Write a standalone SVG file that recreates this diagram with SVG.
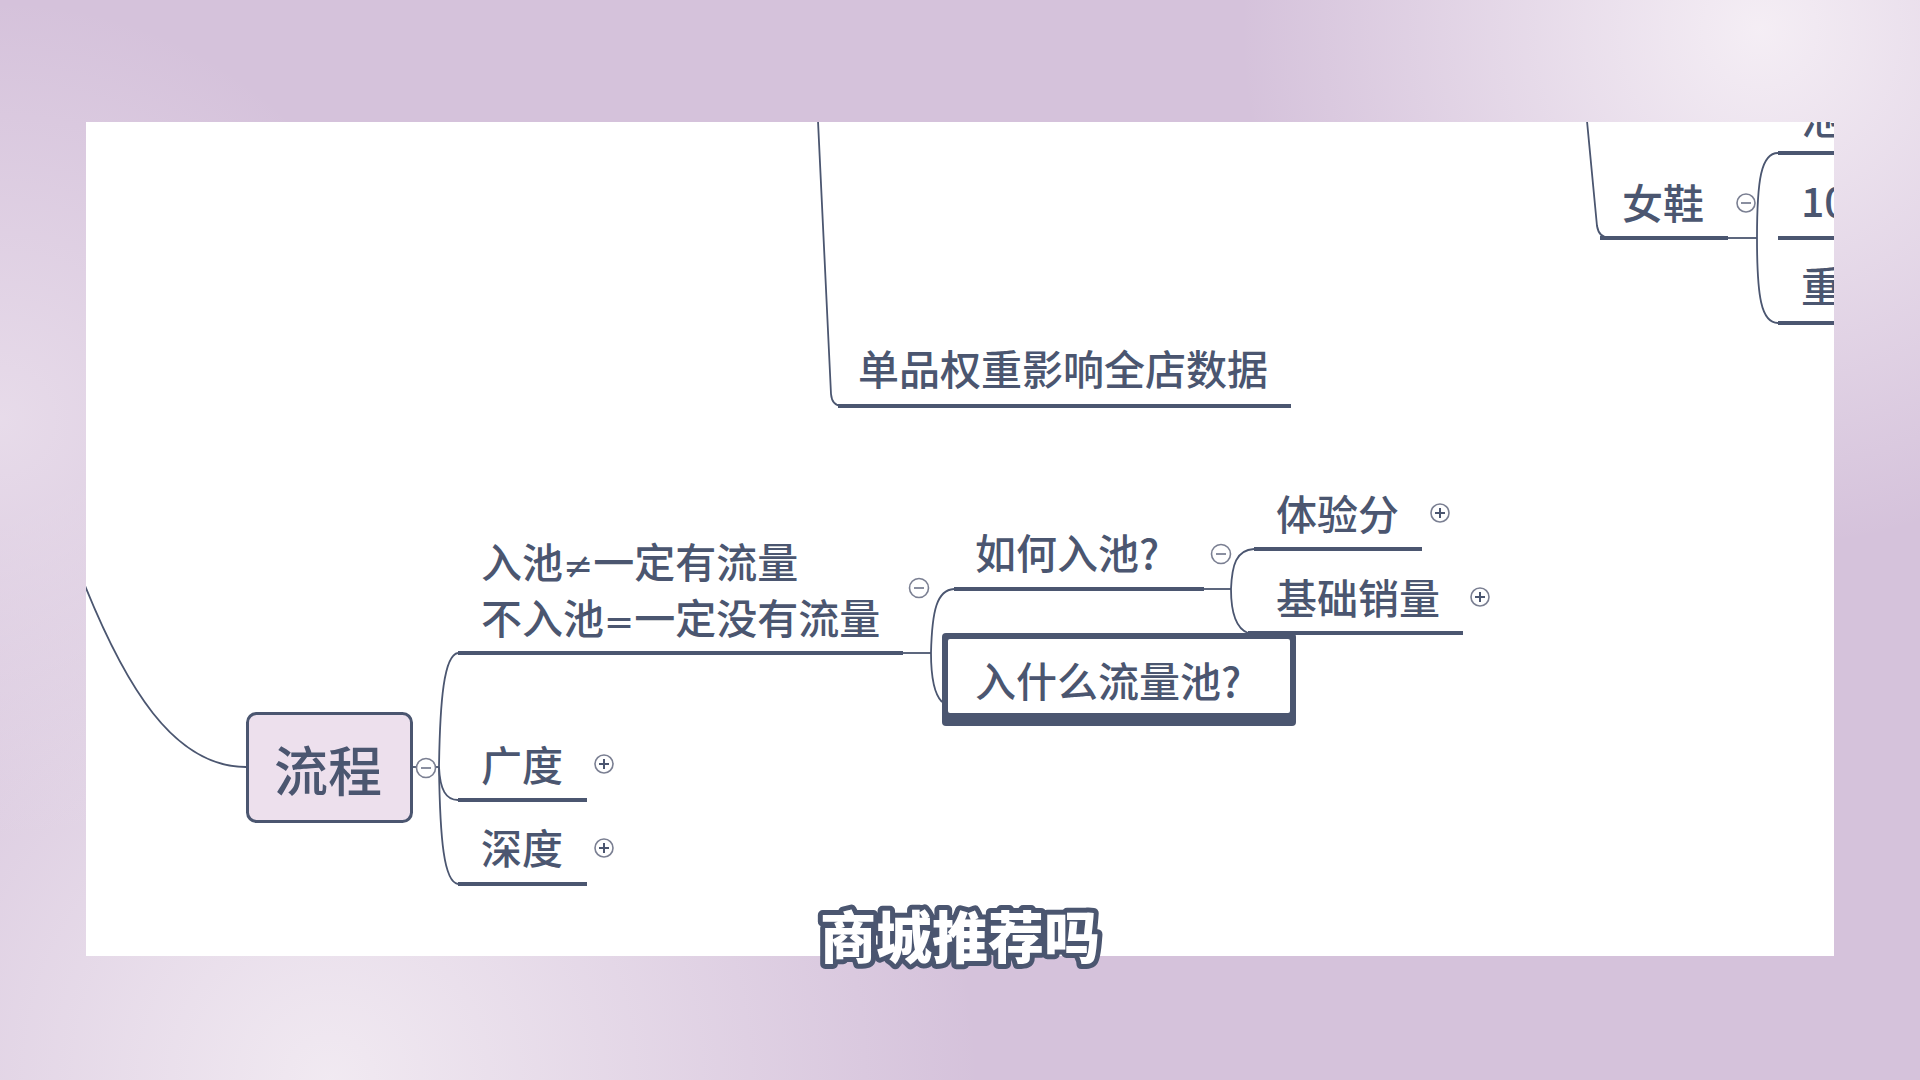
<svg xmlns="http://www.w3.org/2000/svg" width="1920" height="1080" viewBox="0 0 1920 1080">
<defs>
<radialGradient id="gTR" cx="1760" cy="30" r="520" gradientUnits="userSpaceOnUse"><stop offset="0" stop-color="#f6f0f6" stop-opacity="0.95"/><stop offset="1" stop-color="#f6f0f6" stop-opacity="0"/></radialGradient>
<radialGradient id="gBL" cx="330" cy="1080" r="650" gradientUnits="userSpaceOnUse"><stop offset="0" stop-color="#f4eef4" stop-opacity="0.9"/><stop offset="1" stop-color="#f4eef4" stop-opacity="0"/></radialGradient>
<radialGradient id="gL" cx="0" cy="420" r="420" gradientUnits="userSpaceOnUse"><stop offset="0" stop-color="#efe6f0" stop-opacity="0.7"/><stop offset="1" stop-color="#efe6f0" stop-opacity="0"/></radialGradient>
<clipPath id="panel"><rect x="86" y="122" width="1748" height="834"/></clipPath>
<style>
.t{font-family:"Noto Sans CJK SC","Noto Sans",sans-serif;fill:#4b5670;font-size:41px;font-weight:500}
.ln{fill:none;stroke:#4b5670;stroke-width:1.8}
.ul{fill:none;stroke:#4b5670;stroke-width:4}
.cc{fill:#ffffff;stroke:#7a7f92;stroke-width:1.6}
.mk{stroke:#8a8fa0;stroke-width:2;fill:none}
.pk{stroke:#4b5670;stroke-width:2;fill:none}
</style>
</defs>
<rect width="1920" height="1080" fill="#d5c2db"/>
<rect width="1920" height="1080" fill="url(#gTR)"/>
<rect width="1920" height="1080" fill="url(#gBL)"/>
<rect width="1920" height="1080" fill="url(#gL)"/>
<rect x="86" y="122" width="1748" height="834" fill="#ffffff"/>
<g clip-path="url(#panel)">
<g id="connectors">
<path class="ln" d="M78 568 C125 690,175 767,246 767"/>
<path class="ln" d="M817 100 L831 394 Q832 406 842 406"/>
<path class="ln" d="M1585 100 L1597 226 Q1599 238 1610 238"/>
<path class="ln" d="M1728 238 L1757 238"/>
<path class="ln" d="M1778 153 C1761 153,1757 180,1757 238 C1757 296,1761 323,1778 323"/>
<path class="ln" d="M412 767 L439 767"/>
<path class="ln" d="M458 653 C444 655,440 700,439 767 C440 790,446 800,458 800"/>
<path class="ln" d="M439 767 C440 840,444 882,458 884"/>
<path class="ln" d="M903 653 L931 653"/>
<path class="ln" d="M954 589 C937 590,932 610,931 653 C931 680,935 695,942 702"/>
<path class="ln" d="M1204 589 L1231 589"/>
<path class="ln" d="M1254 549 C1236 550,1232 565,1231 589 C1231 610,1235 628,1248 633"/>
</g>
<g id="node-danpin">
<path class="ul" d="M838 406 H1291"/>
<text class="t" x="858" y="385">单品权重影响全店数据</text>
</g>
<g id="node-nvxie">
<path class="ul" d="M1600 238 H1728"/>
<text class="t" x="1622" y="219">女鞋</text>
<circle class="cc" cx="1746" cy="203" r="9"/><path class="mk" d="M1741 203 H1751"/>
</g>
<g id="node-r1">
<path class="ul" d="M1778 153 H1840"/>
<text class="t" x="1801" y="134">池</text>
</g>
<g id="node-r2">
<path class="ul" d="M1778 238 H1840"/>
<text class="t" x="1801" y="217">10</text>
</g>
<g id="node-r3">
<path class="ul" d="M1778 323 H1840"/>
<text class="t" x="1801" y="302">重</text>
</g>
<g id="node-liucheng">
<rect x="247.5" y="713.5" width="164" height="108" rx="9" fill="#ede0ed" stroke="#4b5670" stroke-width="3"/>
<text class="t" x="274" y="792" style="font-size:54px">流程</text>
<circle class="cc" cx="426" cy="768" r="9.5"/><path class="mk" d="M421 768 H431"/>
</g>
<g id="node-ruchi">
<path class="ul" d="M458 653 H903"/>
<text class="t" x="481" y="578">入池<tspan style="font-family:'DejaVu Sans',sans-serif;font-size:36px">≠</tspan>一定有流量</text>
<text class="t" x="481" y="634">不入池<tspan style="font-family:'DejaVu Sans',sans-serif;font-size:36px">=</tspan>一定没有流量</text>
<circle class="cc" cx="919" cy="588" r="9.5"/><path class="mk" d="M914 588 H924"/>
</g>
<g id="node-guangdu">
<path class="ul" d="M458 800 H587"/>
<text class="t" x="481" y="781">广度</text>
<circle class="cc" cx="604" cy="764" r="9"/><path class="pk" d="M599 764 H609 M604 759 V769"/>
</g>
<g id="node-shendu">
<path class="ul" d="M458 884 H587"/>
<text class="t" x="481" y="864">深度</text>
<circle class="cc" cx="604" cy="848" r="9"/><path class="pk" d="M599 848 H609 M604 843 V853"/>
</g>
<g id="node-ruhe">
<path class="ul" d="M954 589 H1204"/>
<text class="t" x="975" y="569">如何入池?</text>
<circle class="cc" cx="1221" cy="554" r="9.5"/><path class="mk" d="M1216 554 H1226"/>
</g>
<g id="node-tiyan">
<path class="ul" d="M1254 549 H1422"/>
<text class="t" x="1276" y="530">体验分</text>
<circle class="cc" cx="1440" cy="513" r="9"/><path class="pk" d="M1435 513 H1445 M1440 508 V518"/>
</g>
<g id="node-jichu">
<path class="ul" d="M1248 633 H1463"/>
<text class="t" x="1276" y="614">基础销量</text>
<circle class="cc" cx="1480" cy="597" r="9"/><path class="pk" d="M1475 597 H1485 M1480 592 V602"/>
</g>
<g id="node-rushenme">
<rect x="942" y="633" width="354" height="93" rx="4" fill="#4b5670"/>
<rect x="948" y="639" width="342" height="74" rx="2" fill="#ffffff"/>
<text class="t" x="975" y="697">入什么流量池?</text>
</g>
</g>
<text x="960" y="958" text-anchor="middle" style="font-family:'Noto Sans CJK SC',sans-serif;font-weight:900;font-size:56px;fill:#ffffff;stroke:#4b5670;stroke-width:10;stroke-linejoin:round;paint-order:stroke">商城推荐吗</text>
</svg>
